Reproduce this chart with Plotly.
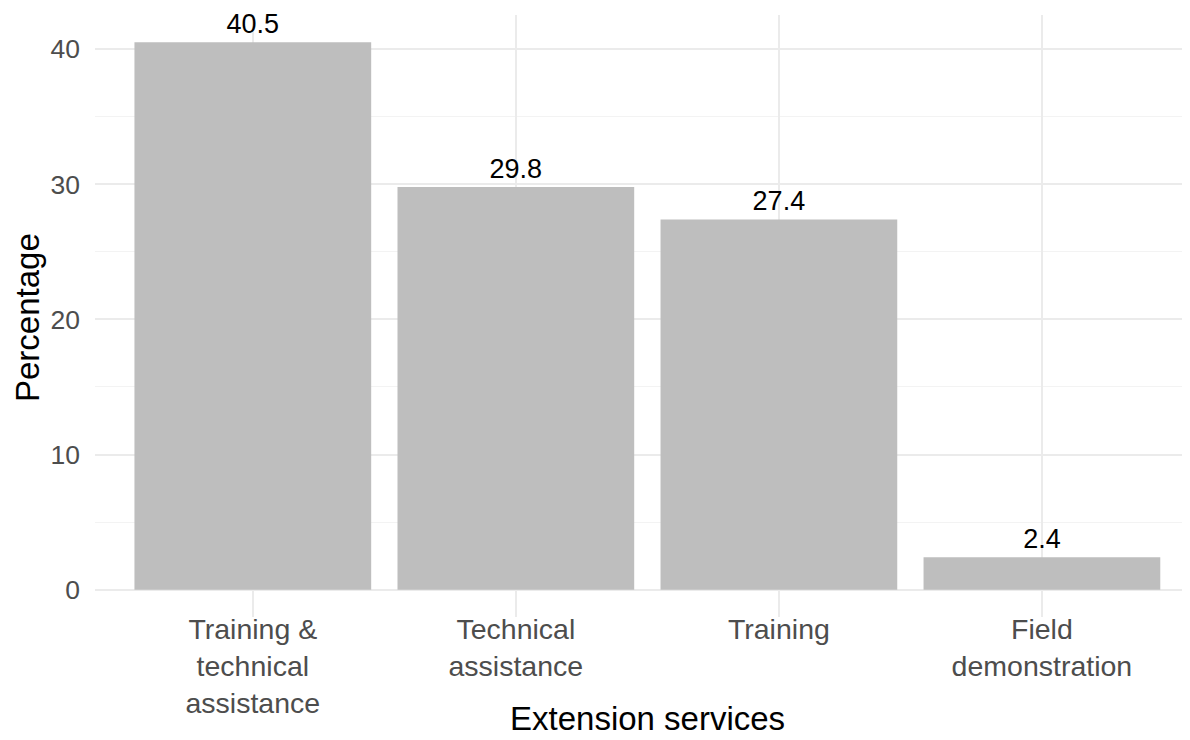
import plotly.graph_objects as go

categories = ["Training &<br>technical<br>assistance", "Technical<br>assistance", "Training", "Field<br>demonstration"]
values = [40.5, 29.8, 27.4, 2.4]
labels = ["40.5", "29.8", "27.4", "2.4"]
y_ticks = [0, 10, 20, 30, 40]

FONT = "Liberation Sans, Arial, sans-serif"

# the page shows the figure offset by 8 px (body margin), so work in figure coords
W, H = 1182, 732
L, T, B = 87, 7, 123
PW, PH = W - L, H - T - B


def px_x(x):
    return (x - 8 - L) / PW


def px_y(y):
    return (H - B - (y - 8)) / PH


fig = go.Figure()
fig.add_trace(go.Bar(
    x=list(range(len(categories))),
    y=values,
    width=0.9,
    marker=dict(color="#BEBEBE", line=dict(width=0)),
    text=labels,
    textposition="outside",
    textfont=dict(family=FONT, size=27, color="black"),
    cliponaxis=False,
    hoverinfo="skip",
))

fig.update_layout(
    width=W, height=H,
    margin=dict(l=L, r=0, t=T, b=B, autoexpand=False),
    paper_bgcolor="white",
    plot_bgcolor="white",
    showlegend=False,
    font=dict(family=FONT),
    xaxis=dict(
        range=[-0.6, 3.563],
        tickmode="array",
        tickvals=list(range(len(categories))),
        ticktext=categories,
        tickfont=dict(family=FONT, size=28.5, color="#4D4D4D"),
        showgrid=True, gridcolor="#EBEBEB", gridwidth=1.5,
        zeroline=False, showline=False, ticks="", ticklen=0,
        automargin=False,
        ticklabelstandoff=-8,
    ),
    yaxis=dict(
        range=[-2.025, 42.525],
        tickmode="array",
        tickvals=y_ticks,
        ticktext=[str(v) for v in y_ticks],
        tickfont=dict(family=FONT, size=26.5, color="#4D4D4D"),
        showgrid=True, gridcolor="#EBEBEB", gridwidth=1.5,
        minor=dict(tickvals=[5, 15, 25, 35], showgrid=True, gridcolor="#F3F3F3", gridwidth=1),
        zeroline=False, showline=False, ticks="", ticklen=0,
        automargin=False,
        ticklabelstandoff=14,
    ),
    annotations=[
        dict(text="Extension services", x=px_x(647), y=px_y(739),
             xref="paper", yref="paper", showarrow=False,
             font=dict(family=FONT, size=33, color="black"),
             xanchor="center", yanchor="bottom"),
        dict(text="Percentage", x=px_x(27), y=px_y(318),
             xref="paper", yref="paper", showarrow=False, textangle=-90,
             font=dict(family=FONT, size=33, color="black"),
             xanchor="center", yanchor="middle"),
    ],
)

fig.write_html("out.html")
